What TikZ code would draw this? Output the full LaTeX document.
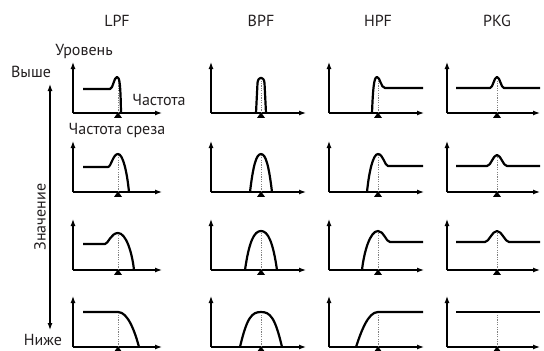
\documentclass[tikz,border=0pt]{standalone}
\usepackage{fontspec}
\setmainfont{PT Sans}
\usetikzlibrary{arrows.meta}
\definecolor{txt}{HTML}{231F20}
\tikzset{
  lbl/.style={font=\fontsize{16}{18}\selectfont, text=txt, inner sep=0pt},
  axisline/.style={line width=1.2pt, -{Latex[length=7pt,width=5pt]}},
  curveline/.style={line width=2.2pt, line join=round},
  cutline/.style={line width=1pt, gray, dash pattern=on 1.3pt off 1.1pt},
}
% #1 ax, #2 baseline y, #3 dotted offset, #4 axis length, #5 peak height, #6 curve path
\newcommand\fpanel[6]{%
  \begin{scope}[shift={(#1,#2)}, yscale=-1]
    \draw[axisline] (0,0) -- (0,51);
    \draw[axisline] (0,0) -- (#4,0);
    \draw[cutline] (#3,0) -- (#3,#5);
    \fill (#3,0.6) -- ++(-4,-5.5) -- ++(8,0) -- cycle;
    \begin{scope}[shift={(#3,0)}]
      \draw[curveline] #6;
    \end{scope}
  \end{scope}}
\begin{document}
\begin{tikzpicture}[x=1pt, y=-1pt]
\useasboundingbox (0,0) rectangle (544,351);
% column titles
\node[lbl] (tlpf) at (117,21) {LPF};
\node[lbl] (tbpf) at (261,21) {BPF};
\node[lbl] (thpf) at (378,21) {HPF};
\node[lbl] (tpkg) at (497,21) {PKG};
% left labels
\node[lbl] (lvl) at (84,51) {Уровень};
\node[lbl] (hi) at (31,72) {Выше};
\node[lbl] (lo) at (43,340) {Ниже};
\node[lbl, rotate=90] (val) at (40,217) {Значение};
\coordinate (vtop) at (50,84);
\coordinate (vbot) at (50,330);
\draw[line width=1.2pt, {Latex[length=7pt,width=5pt]}-{Latex[length=7pt,width=5pt]}] (vtop) -- (vbot);
\node[lbl] (freq) at (159,100) {Частота};
\node[lbl] (cut) at (117,130) {Частота среза};
% ---------- LPF ----------
\fpanel{73}{113}{45}{89}{36}{(-35,24) -- (-8,24) .. controls (-5,24) and (-4,36) .. (-1,36) .. controls (1.5,36) and (2.5,30) .. (3,0)}
\fpanel{73}{192}{45}{89}{38}{(-35,25) -- (-10,25) .. controls (-7,25) and (-5,38) .. (0,38) .. controls (5,38) and (9,20) .. (11,0)}
\fpanel{73}{270}{45}{89}{37}{(-35,26) -- (-13,26) .. controls (-10,26) and (-7,37) .. (0,37) .. controls (8,37) and (14,18) .. (16,0)}
\fpanel{73}{347}{45}{89}{35}{(-35,35) -- (0,35) .. controls (10,35) and (17,15) .. (21,0)}
% ---------- BPF ----------
\fpanel{211}{113}{50}{95}{36}{(-5,0) -- (-3.5,30) .. controls (-3,37) and (3,37) .. (3.5,30) -- (5,0)}
\fpanel{211}{192}{50}{95}{38}{(-11,0) .. controls (-8,25) and (-5,38) .. (0,38) .. controls (5,38) and (8,25) .. (11,0)}
\fpanel{211}{270}{50}{95}{39}{(-16,0) .. controls (-12,28) and (-7,39) .. (0,39) .. controls (7,39) and (12,28) .. (16,0)}
\fpanel{211}{347}{50}{95}{35}{(-21,0) .. controls (-14,30) and (-9,35) .. (0,35) .. controls (9,35) and (14,30) .. (21,0)}
% ---------- HPF ----------
\fpanel{329}{113}{49}{95}{36}{(-6,0) .. controls (-5,25) and (-4,36) .. (-1,36) .. controls (2,36) and (3,25) .. (7,25) -- (45,25)}
\fpanel{329}{192}{49}{95}{38}{(-11,0) .. controls (-9,20) and (-5,38) .. (0,38) .. controls (5,38) and (7,26) .. (10,26) -- (45,26)}
\fpanel{329}{270}{49}{95}{39}{(-16,0) .. controls (-14,18) and (-8,39) .. (0,39) .. controls (6,39) and (8,28) .. (12,28) -- (45,28)}
\fpanel{329}{347}{49}{95}{35}{(-22,0) .. controls (-17,15) and (-10,35) .. (0,35) -- (45,35)}
% ---------- PKG ----------
\fpanel{447}{113}{50}{93}{36}{(-41,25) -- (-7,25) .. controls (-4,25) and (-3,36) .. (0,36) .. controls (3,36) and (4,25) .. (7,25) -- (43,25)}
\fpanel{447}{192}{50}{93}{37}{(-41,26) -- (-10,26) .. controls (-6,26) and (-4,37) .. (0,37) .. controls (4,37) and (6,26) .. (10,26) -- (43,26)}
\fpanel{447}{270}{50}{93}{39}{(-41,28) -- (-12,28) .. controls (-8,28) and (-5,39) .. (0,39) .. controls (5,39) and (8,28) .. (12,28) -- (43,28)}
\fpanel{447}{347}{50}{93}{35}{(-41,35) -- (43,35)}
\end{tikzpicture}
\end{document}
